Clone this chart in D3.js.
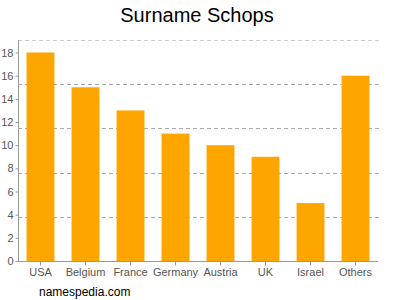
<!DOCTYPE html>
<html>
<head>
<meta charset="utf-8">
<script src="https://cdn.jsdelivr.net/npm/d3@7"></script>
<style>
body { margin: 0; background: #fff; }
text { font-family: "Liberation Sans", Arial, sans-serif; }
</style>
</head>
<body>
<div class="chart"></div>
<script>
var countries = ['USA', 'Belgium', 'France', 'Germany', 'Austria', 'UK', 'Israel', 'Others'];
var counts = [18, 15, 13, 11, 10, 9, 5, 16];
var yTicks = [0, 2, 4, 6, 8, 10, 12, 14, 16, 18];

var fullWidth = 400;
var fullHeight = 300;
var margin = { top: 40, right: 22, bottom: 39, left: 18 };
var width = fullWidth - margin.left - margin.right;
var height = fullHeight - margin.top - margin.bottom;
var yMax = 19.08;

var svg = d3.select('.chart')
    .append('svg')
    .attr('width', fullWidth)
    .attr('height', fullHeight);

svg.append('text')
    .attr('x', 197)
    .attr('y', 22)
    .attr('text-anchor', 'middle')
    .style('font-size', '20px')
    .attr('fill', '#000')
    .text('Surname Schops');

svg.append('text')
    .attr('x', 39)
    .attr('y', 296)
    .style('font-size', '12px')
    .attr('fill', '#000')
    .text('namespedia.com');

var g = svg.append('g')
    .attr('transform', 'translate(' + margin.left + ',' + margin.top + ')');

var x = d3.scaleBand()
    .domain(countries)
    .range([0, width])
    .paddingInner(0.38)
    .paddingOuter(0.19);

var y = d3.scaleLinear()
    .domain([0, yMax])
    .range([height, 0]);

// grid: 5 even divisions of the value range
var grid = d3.range(1, 6).map(function (k) { return yMax * k / 5; });
g.selectAll('.grid')
    .data(grid)
    .enter().append('line')
    .attr('x1', 0)
    .attr('x2', width + 2)
    .attr('y1', function (d) { return Math.round(y(d)) + 0.5; })
    .attr('y2', function (d) { return Math.round(y(d)) + 0.5; })
    .attr('stroke', function (d, i) { return i === 4 ? '#ccc' : '#aaa'; })
    .attr('stroke-dasharray', '4,3');

g.selectAll('.bar')
    .data(counts)
    .enter().append('rect')
    .attr('x', function (d, i) { return x(countries[i]); })
    .attr('width', x.bandwidth())
    .attr('y', function (d) { return y(d); })
    .attr('height', function (d) { return height - y(d); })
    .attr('fill', '#ffa500');

var yAxis = d3.axisLeft(y)
    .tickValues(yTicks)
    .tickSize(3)
    .tickPadding(2);

var ya = g.append('g')
    .attr('transform', 'translate(0.5,0)')
    .call(yAxis);
ya.select('.domain').attr('stroke', '#999').attr('d', 'M0,' + height + 'V0');
ya.selectAll('.tick line').attr('stroke', '#999');
ya.selectAll('.tick text').attr('fill', '#555').style('font-size', '11px');

var xAxis = d3.axisBottom(x)
    .tickSize(4)
    .tickPadding(3);

var xa = g.append('g')
    .attr('transform', 'translate(0,' + (height + 0.5) + ')')
    .call(xAxis);
xa.select('.domain').attr('stroke', '#999').attr('d', 'M0,0H' + width);
xa.selectAll('.tick line').attr('stroke', '#999');
xa.selectAll('.tick text').attr('fill', '#555').style('font-size', '11px');
</script>
</body>
</html>
